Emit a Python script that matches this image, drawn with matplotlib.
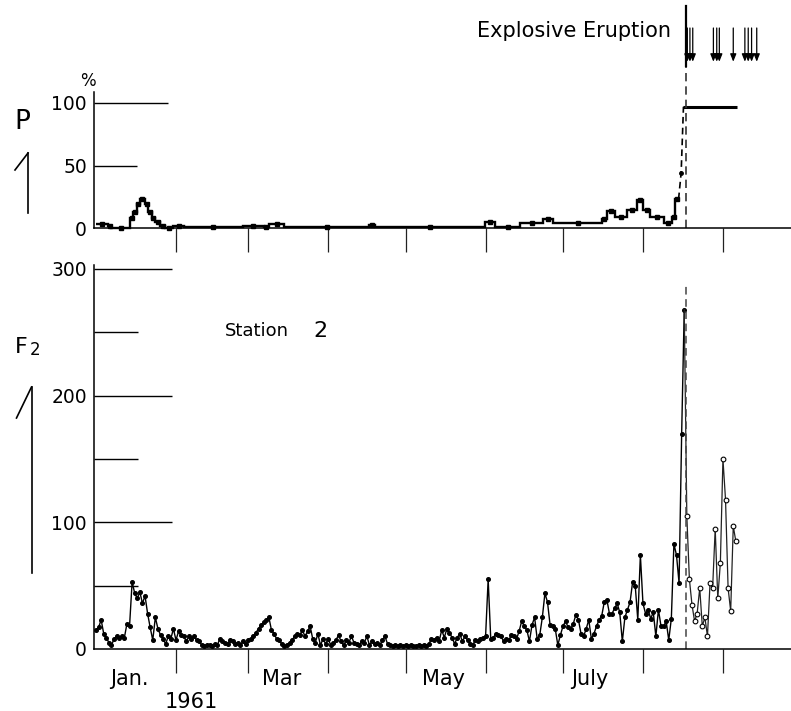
import numpy as np
import matplotlib
matplotlib.use("Agg")
import matplotlib.pyplot as plt

# ---------------------------------------------------------------- data
# Day index counted from 1 January 1961 (day 0).
month_starts = [31, 59, 90, 120, 151, 181, 212, 243]        # Feb 1 ... Sep 1
month_labels = ["Jan.", "Mar", "May", "July"]
year_label = "1961"

# Daily F2 at station 2, before the explosive eruption (Jan 1 - Aug 17)
f2_jan = [15, 17, 23, 12, 9, 5, 3, 8, 10, 9, 10, 9, 20, 18, 53, 44, 40, 45, 36, 42,
          28, 17, 7, 25, 16, 11, 8, 4, 10, 8, 16]
f2_feb = [7, 14, 11, 10, 6, 10, 8, 10, 7, 6, 3, 2, 3, 3, 2, 4, 3, 8, 6, 5,
          4, 7, 6, 4, 5, 3, 6, 4]
f2_mar = [7, 8, 10, 13, 16, 19, 21, 23, 25, 15, 12, 8, 7, 4, 2, 3, 5, 7, 10, 12,
          11, 15, 10, 14, 18, 8, 5, 12, 3, 8, 4]
f2_apr = [8, 3, 5, 7, 11, 6, 3, 7, 5, 10, 5, 4, 3, 6, 5, 10, 3, 6, 4, 5,
          3, 7, 10, 4, 3, 2, 3, 2, 3, 2]
f2_may = [3, 2, 3, 2, 2, 3, 2, 3, 2, 4, 8, 7, 9, 6, 15, 9, 16, 13, 9, 4,
          9, 12, 6, 10, 7, 4, 3, 7, 6, 8, 9]
f2_jun = [10, 55, 8, 9, 12, 11, 10, 6, 8, 7, 11, 10, 8, 14, 22, 18, 15, 6, 19, 25,
          8, 11, 25, 44, 37, 19, 18, 16, 3, 11]
f2_jul = [18, 22, 17, 16, 20, 27, 23, 12, 10, 16, 23, 8, 12, 18, 23, 26, 37, 39, 28, 28,
          32, 36, 29, 6, 25, 31, 37, 53, 50, 23, 74]
f2_aug = [36, 28, 31, 24, 29, 10, 31, 18, 18, 22, 7, 24, 83, 74, 52, 170, 268]
f2_pre = f2_jan + f2_feb + f2_mar + f2_apr + f2_may + f2_jun + f2_jul + f2_aug

# Daily F2 after the eruption (Aug 18 - Sep 6)
f2_post = [105, 55, 35, 22, 28, 48, 18, 25, 10, 52, 48, 95, 40, 68, 150, 118, 48, 30, 97, 85]

# P (%) as a step series: interval edges (days) and the value over each interval
p_edges = [0, 4.5, 6, 13.2, 14.4, 15.7, 17, 19, 20.3, 21.6, 22.9, 24.8, 26.8, 30, 34,
           57, 65, 67, 73, 106, 108, 150.8, 154.7, 164.4, 173.4, 177.3, 196, 198,
           201.2, 205.7, 209.6, 212.2, 214.8, 220, 223.2, 224.5, 225.8]
p_values = [3, 2, 0.3, 8, 13, 19, 23, 19, 13, 8, 5, 2, 0, 2, 0.8, 1.5, 1, 3, 1, 2.5,
            0.8, 5, 1, 4, 7.5, 4, 7.5, 14, 8.5, 14.6, 22.6, 14.6, 8.5, 4, 9, 23]
p_rise_days = [225.8, 226.8, 227.7]
p_rise_values = [23, 44, 97]
p_after_value = 97
p_after_end = 248.4

eruption_day = 228.8
explosion_days = [229.2, 230.2, 231.3, 239.3, 240.6, 241.6, 247.0, 251.5, 252.8, 254.1, 256.1]

# ---------------------------------------------------------------- layout
W, H = 791, 711
fig = plt.figure(figsize=(W / 100, H / 100), dpi=100)
plt.rcParams["font.family"] = ["DejaVu Sans"]

day0_px, px_per_day = 96.0, 2.58
left_px, right_px = 94.0, 791.0
xlim = ((left_px - day0_px) / px_per_day, (right_px - day0_px) / px_per_day)
ax_w = (right_px - left_px) / W

# upper panel: P, 0 at y=228px, 1.25 px per %
ax_p = fig.add_axes([left_px / W, 1 - 232 / H, ax_w, 232 / H])
ax_p.set_xlim(*xlim)
ax_p.set_ylim(-3.2, 182.4)

# lower panel: F2, 0 at y=649px, 1.2667 px per unit
ax_f = fig.add_axes([left_px / W, 1 - 652 / H, ax_w, 392 / H])
ax_f.set_xlim(*xlim)
ax_f.set_ylim(-2.37, 307.1)

for ax, top in ((ax_p, 109), (ax_f, 303)):
    ax.patch.set_visible(False)
    for s in ("top", "right"):
        ax.spines[s].set_visible(False)
    ax.spines["left"].set_bounds(0, top)
    ax.spines["bottom"].set_position(("data", 0))
    for s in ("left", "bottom"):
        ax.spines[s].set_linewidth(1.1)
    ax.set_xticks(month_starts)
    ax.set_xticklabels([])
    ax.tick_params(axis="x", direction="out", length=17, width=0.9, color="#222")
    ax.tick_params(axis="y", length=0, pad=5, labelsize=13.5)

ax_p.set_yticks([0, 50, 100])
ax_p.set_yticklabels(["0", "50", "100"])
ax_f.set_yticks([0, 100, 200, 300])
ax_f.set_yticklabels(["0", "100", "200", "300"])

# short reference rules from the y axis
ax_p.hlines([100], xlim[0], 28, color="k", lw=1.0)
ax_p.hlines([50], xlim[0], 16, color="k", lw=1.0)
ax_f.hlines([100, 200, 300], xlim[0], 29.5, color="k", lw=1.0)
ax_f.hlines([50, 150, 250], xlim[0], 16.3, color="k", lw=1.0)

# ---------------------------------------------------------------- P panel
edges = np.array(p_edges)
ax_p.stairs(p_values, edges, baseline=None, color="k", lw=1.7)
ax_p.plot((edges[:-1] + edges[1:]) / 2, p_values, "s", color="k", ms=2.2)
ax_p.plot(p_rise_days, p_rise_values, color="k", lw=1.2, ls=(0, (4, 2.5)),
          marker="o", ms=2.5, markevery=[1])
ax_p.hlines(p_after_value, p_rise_days[-1], p_after_end, color="k", lw=2.2)
ax_p.plot([eruption_day, eruption_day], [0, 130], color="#333", lw=1.2, ls=(0, (5, 3)))
ax_p.plot([eruption_day - 0.3, eruption_day - 0.3], [130, 178], color="k", lw=1.6)
for d in explosion_days:
    ax_p.annotate("", xy=(d, 133), xytext=(d, 160),
                  arrowprops=dict(arrowstyle="-|>,head_length=0.45,head_width=0.18",
                                  lw=0.9, color="k", shrinkA=0, shrinkB=0))

# ---------------------------------------------------------------- F2 panel
days_pre = np.arange(len(f2_pre))
days_post = np.arange(len(f2_pre), len(f2_pre) + len(f2_post))
ax_f.plot(days_pre, f2_pre, "-o", color="k", lw=1.0, ms=2.6)
ax_f.plot(np.r_[days_pre[-1], days_post], np.r_[f2_pre[-1], f2_post],
          color="#222", lw=0.9)
ax_f.plot(days_post, f2_post, "o", mfc="white", mec="k", mew=0.8, ms=3.4)
ax_f.plot([eruption_day, eruption_day], [0, 289], color="#444", lw=1.1, ls=(0, (5, 3)))

# month and year labels under the F2 axis
label_days = {"Jan.": 13, "Mar": 72, "May": 134.5, "July": 191.5}
for name in month_labels:
    ax_f.text(label_days[name], -24, name, ha="center", va="center", fontsize=15,
              clip_on=False)
ax_f.text(36.8, -42, year_label, ha="center", va="center", fontsize=15, clip_on=False)

# ---------------------------------------------------------------- annotations
ov = fig.add_axes([0, 0, 1, 1], zorder=5)
ov.set_xlim(0, W)
ov.set_ylim(H, 0)
ov.axis("off")
ov.patch.set_visible(False)

ov.text(477, 37, "Explosive Eruption", fontsize=15, ha="left", va="baseline")
ov.text(88, 81, "%", fontsize=12, ha="center", va="center")
ov.text(225, 331, "Station", fontsize=13, ha="left", va="center")
ov.text(313, 331, "2", fontsize=16, ha="left", va="center")

# axis names with half-arrow pointers
ov.text(22, 122, "P", fontsize=19, ha="center", va="center")
ov.plot([28, 28], [213, 153], color="k", lw=1.2)
ov.plot([15, 28], [170, 153], color="k", lw=1.2)
ov.text(15, 353, "F", fontsize=16, ha="left", va="baseline")
ov.text(30, 355, "2", fontsize=12, ha="left", va="baseline")
ov.plot([31.5, 31.5], [573, 387], color="k", lw=1.2)
ov.plot([16.5, 31.5], [418, 387], color="k", lw=1.2)

fig.savefig("out.png", dpi=100)
